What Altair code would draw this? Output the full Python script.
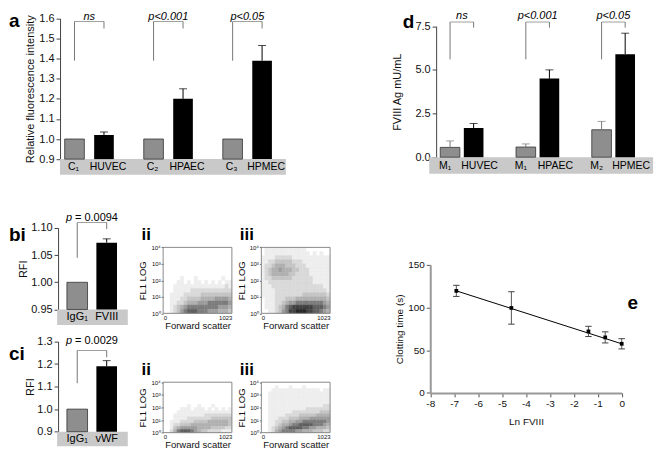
import altair as alt
import pandas as pd

FONT = "Liberation Sans"

# ---------------- data ----------------
# panel a
a_groups = ["HUVEC", "HPAEC", "HPMEC"]
a_ctrl_labels = ["C₁", "C₂", "C₃"]
a_cell_labels = ["HUVEC", "HPAEC", "HPMEC"]
a_ctrl_values = [1.00, 1.00, 1.00]
a_ctrl_errors = [0.0, 0.0, 0.0]
a_cell_values = [1.02, 1.20, 1.39]
a_cell_errors = [0.015, 0.05, 0.075]
a_pvalues = ["ns", "p<0.001", "p<0.05"]
a_ticks = [0.9, 1.0, 1.1, 1.2, 1.3, 1.4, 1.5, 1.6]
a_bracket = [1.39, 1.585, 1.55]

# panel d
d_groups = ["HUVEC", "HPAEC", "HPMEC"]
d_ctrl_labels = ["M₁", "M₁", "M₂"]
d_cell_labels = ["HUVEC", "HPAEC", "HPMEC"]
d_ctrl_values = [0.56, 0.58, 1.57]
d_ctrl_errors = [0.37, 0.18, 0.48]
d_cell_values = [1.67, 4.50, 5.90]
d_cell_errors = [0.26, 0.50, 1.20]
d_pvalues = ["ns", "p<0.001", "p<0.05"]
d_ticks = [0.0, 2.5, 5.0, 7.5]
d_bracket = [5.6, 7.74, 7.42]

# panel bi
bi_labels = ["IgG₁", "FVIII"]
bi_values = [1.00, 1.073]
bi_errors = [0.0, 0.007]
bi_p = "= 0.0094"
bi_ticks = [0.95, 1.00, 1.05, 1.10]
bi_bracket = [1.045, 1.11, 1.098]

# panel ci
ci_labels = ["IgG₁", "vWF"]
ci_values = [1.00, 1.19]
ci_errors = [0.0, 0.025]
ci_p = "= 0.0029"
ci_ticks = [0.9, 1.0, 1.1, 1.2, 1.3]
ci_bracket = [1.115, 1.26, 1.23]

# flow cytometry dot density (estimated darkness 0-9),
# rows top -> bottom in quarter decades, 20 columns across forward scatter
bi_ii_density = [
    "00000000000000000000",
    "00000000000000000000",
    "00000000000000000000",
    "00000000000000000000",
    "00000000000000000000",
    "00000000000000000000",
    "00000000000000000000",
    "00000100010000000100",
    "00001101011010101011",
    "00011111111111111121",
    "00011111222222222222",
    "00111122222333333333",
    "00111223333444455554",
    "00112234445556666665",
    "00123456666666665554",
    "00123567776665554443",
]
bi_iii_density = [
    "01111111111110000000",
    "01111111111111010100",
    "11112222211111111111",
    "11223333322211111111",
    "12234443332221111111",
    "12344544433222111111",
    "12344444332222111111",
    "12233333322222211111",
    "11222222222222211111",
    "11122222222222222211",
    "11112222222222222221",
    "11112222222233333332",
    "01112223334444444443",
    "01112234556666666654",
    "01112346788888877765",
    "00112356889998877654",
]
ci_ii_density = [
    "00000000000000000000",
    "00000000000000000000",
    "00000000000000000000",
    "00000000000000000000",
    "00000000000000000000",
    "00000000000000000000",
    "00000000000000000000",
    "00000001001000100000",
    "00000111011101010101",
    "00001111111111111111",
    "00011111111122222222",
    "00011112222222333333",
    "00111222233334444443",
    "00122333444444444443",
    "00134555554444333322",
    "00246777654332222111",
]
ci_iii_density = [
    "00000000000000000000",
    "00001000100010000000",
    "00011111111111111011",
    "00111111111111111111",
    "00111111111111111111",
    "00111111111111111111",
    "00111111111111111111",
    "00111111111111111122",
    "00111111111112222222",
    "00111111122222222333",
    "00111112222333334444",
    "00111222333444555555",
    "00112233445566666665",
    "00112344566777766654",
    "00123456777766554443",
    "00124566665544433322",
]
flow_yticks = [1, 10, 100, 1000, 10000]
flow_xticks = [0, 1023]

# panel e
e_ln_fviii = [-6.91, -4.61, -1.39, -0.69, 0.0]
e_clot = [119.5, 99.5, 72.0, 65.0, 57.5]
e_err = [6.5, 19.0, 6.0, 6.5, 6.0]
e_fit_x = [-6.91, 0.0]
e_fit_y = [119.5, 57.5]
e_xticks = [-8, -7, -6, -5, -4, -3, -2, -1, 0]
e_yticks = [0, 50, 100, 150]

# ---------------- layout helpers ----------------
SX, SY = 0.985, 0.973


def P(x):
    return round(SX * (x - 2), 2)


def Q(y):
    return round(SY * (y - 4), 2)


W = 648
H = 436


def letter(txt, x, y, size=19):
    return alt.Chart(pd.DataFrame({"t": [txt]})).mark_text(
        font=FONT, fontSize=size, fontWeight="bold", align="left",
        baseline="alphabetic", color="#000"
    ).encode(text="t:N", x=alt.value(P(x)), y=alt.value(Q(y)))


def bar_panel(groups, ctrl_lab, cell_lab, ctrl_val, ctrl_err, cell_val, cell_err,
              ptexts, ticks, fmt, ytitle, bracket, g, psplit=False):
    rows = []
    for i, grp in enumerate(groups):
        rows.append({"grp": grp, "kind": "ctrl", "lab": ctrl_lab[i],
                     "val": ctrl_val[i], "err": ctrl_err[i]})
        rows.append({"grp": grp, "kind": "cell", "lab": cell_lab[i],
                     "val": cell_val[i], "err": cell_err[i]})
    df = pd.DataFrame(rows)
    df["top"] = df["val"] + df["err"]
    lo, top, right = bracket
    br = pd.DataFrame({
        "grp": [gr for gr in groups for _ in (0, 1)],
        "kind": ["ctrl", "cell"] * len(groups),
        "b0": [lo, right] * len(groups),
        "b1": [top, top] * len(groups),
    })
    pt = pd.DataFrame({"grp": groups, "pt": ptexts})

    X = alt.X("grp:N", scale=alt.Scale(domain=groups,
                                       range=[P(g["xr"][0]), P(g["xr"][1])],
                                       paddingInner=g["pi"], paddingOuter=g["po"]),
              axis=None)
    XO = alt.XOffset("kind:N", scale=alt.Scale(domain=["ctrl", "cell"],
                                               paddingInner=g["pi2"],
                                               paddingOuter=g["po2"]))
    ys = alt.Scale(domain=g["ydom"], range=[Q(g["yr"][0]), Q(g["yr"][1])],
                   nice=False, zero=False)
    yaxis = alt.Axis(orient="left", offset=-P(g["ax"]), values=ticks, format=fmt,
                     title=ytitle, titlePadding=g["tpad"], labelFontSize=11,
                     titleFontSize=11, tickSize=4, labelPadding=2,
                     domainColor="#444", tickColor="#444", grid=False,
                     labelOverlap=False)

    def Y(field):
        return alt.Y(field, scale=ys, axis=yaxis)

    ecol = alt.Color("kind:N", scale=alt.Scale(domain=["ctrl", "cell"],
                                               range=["#777777", "#000000"]),
                     legend=None)
    bx0, bx1, by0, by1 = g["band"]
    band = alt.Chart(pd.DataFrame({"k": [0]})).mark_rect(color="#c9c9c9").encode(
        x=alt.value(P(bx0)), x2=alt.value(P(bx1)),
        y=alt.value(Q(by0)), y2=alt.value(Q(by1)))
    bars_c = alt.Chart(df).transform_filter("datum.kind == 'ctrl'").mark_bar(
        color="#8e8e8e", stroke="#333", strokeWidth=0.8
    ).encode(X, XO, y=Y("val:Q"), y2=alt.datum(g["ydom"][0]))
    bars_k = alt.Chart(df).transform_filter("datum.kind == 'cell'").mark_bar(
        color="#000000"
    ).encode(X, XO, y=Y("val:Q"), y2=alt.datum(g["ydom"][0]))
    errs = alt.Chart(df).transform_filter("datum.err > 0")
    err_rule = errs.mark_rule(strokeWidth=1).encode(
        X, XO, y=Y("val:Q"), y2="top:Q", color=ecol)
    err_cap = errs.mark_tick(thickness=1, size=8).encode(
        X, XO, y=Y("top:Q"), color=ecol)
    legs = alt.Chart(br).mark_rule(color="#777", strokeWidth=1).encode(
        X, XO, y=Y("b0:Q"), y2="b1:Q")
    hbar = alt.Chart(br).transform_filter("datum.kind == 'ctrl'").mark_tick(
        color="#777", thickness=1, size=round(SX * g["bw"], 2)
    ).encode(X, y=Y("b1:Q"))
    ldx_c, ldx_k = g["ldx"]
    labs_c = alt.Chart(df).transform_filter("datum.kind == 'ctrl'").mark_text(
        font=FONT, fontSize=g["lfs"], color="#000", dx=ldx_c
    ).encode(X, XO, y=alt.value(Q(g["ly"])), text="lab:N")
    labs_k = alt.Chart(df).transform_filter("datum.kind == 'cell'").mark_text(
        font=FONT, fontSize=g["lfs"], color="#000", dx=ldx_k
    ).encode(X, XO, y=alt.value(Q(g["ly"])), text="lab:N")
    layers = [band, bars_c, bars_k, err_rule, err_cap, legs, hbar, labs_c, labs_k]
    if psplit:
        layers.append(alt.Chart(pt.assign(pp="p")).mark_text(
            font=FONT, fontSize=11, fontStyle="italic", align="left", dx=-26, color="#000"
        ).encode(X, y=alt.value(Q(g["py"])), text="pp:N"))
        layers.append(alt.Chart(pt).mark_text(
            font=FONT, fontSize=11, align="left", dx=-17, color="#000"
        ).encode(X, y=alt.value(Q(g["py"])), text="pt:N"))
    else:
        layers.append(alt.Chart(pt).mark_text(
            font=FONT, fontSize=11, fontStyle="italic", color="#000"
        ).encode(X, y=alt.value(Q(g["py"])), text="pt:N"))
    return alt.layer(*layers)


def flow_panel(density, xr, yr):
    nrow = len(density)
    ncol = max(len(s) for s in density)
    recs = []
    for i, s in enumerate(density):
        r = nrow - 1 - i
        for c, ch in enumerate(s):
            lv = int(ch)
            if lv > 0:
                recs.append({"fx0": c * 1023 / ncol, "fx1": (c + 1) * 1023 / ncol,
                             "fy0": 10 ** (r * 4 / nrow), "fy1": 10 ** ((r + 1) * 4 / nrow),
                             "lv": lv})
    df = pd.DataFrame(recs)
    xs = alt.Scale(domain=[0, 1023], range=[P(xr[0]), P(xr[1])], nice=False, zero=False)
    ys = alt.Scale(type="log", domain=[1, 10000], range=[Q(yr[0]), Q(yr[1])], nice=False)
    xaxis = alt.Axis(orient="bottom", offset=Q(yr[0]) - H, values=flow_xticks,
                     format="d", labelFlush=True, labelFontSize=6, ticks=False,
                     domain=False, labelPadding=1, title="Forward scatter",
                     titleFontSize=9.5, titlePadding=0, grid=False)
    yaxis = alt.Axis(orient="left", offset=-P(xr[0]), values=flow_yticks,
                     labelExpr="datum.value < 5 ? '10⁰' : datum.value < 50 ? '10¹' : "
                               "datum.value < 500 ? '10²' : datum.value < 5000 ? '10³' : '10⁴'",
                     labelFontSize=6, tickSize=2, domain=False, labelPadding=1,
                     title="FL1 LOG", titleFontSize=9.5, titlePadding=3, grid=False,
                     tickColor="#666", labelOverlap=False)
    shade = alt.Scale(domain=[0, 1, 5, 9],
                      range=["#ffffff", "#eeeeee", "#9c9c9c", "#262626"])
    cells = alt.Chart(df).mark_rect(strokeWidth=0.4).encode(
        x=alt.X("fx0:Q", scale=xs, axis=xaxis), x2="fx1:Q",
        y=alt.Y("fy0:Q", scale=ys, axis=yaxis), y2="fy1:Q",
        fill=alt.Fill("lv:Q", scale=shade, legend=None),
        stroke=alt.Stroke("lv:Q", scale=shade, legend=None))
    frame = alt.Chart(pd.DataFrame({"k": [0]})).mark_rect(
        filled=False, color="#8a8a8a", strokeWidth=1
    ).encode(x=alt.XDatum(0, scale=xs, axis=xaxis), x2=alt.datum(1023),
             y=alt.YDatum(1, scale=ys, axis=yaxis), y2=alt.datum(10000))
    return alt.layer(cells, frame)


# ---------------- panels ----------------
panel_a = bar_panel(
    a_groups, a_ctrl_labels, a_cell_labels, a_ctrl_values, a_ctrl_errors,
    a_cell_values, a_cell_errors, a_pvalues, a_ticks, ".1f",
    "Relative fluorescence intensity", a_bracket,
    dict(xr=(44.5, 286), pi=0.3043, po=0.152, pi2=0.3333, po2=0.1,
         ydom=[0.9, 1.6], yr=(156, 11), ax=55, tpad=3,
         band=(55, 285, 156, 172), ly=164, py=9, bw=30, ldx=(-1, 4), lfs=10.5))

panel_d = bar_panel(
    d_groups, d_ctrl_labels, d_cell_labels, d_ctrl_values, d_ctrl_errors,
    d_cell_values, d_cell_errors, d_pvalues, d_ticks, ".1f",
    "FVIII Ag mU/mL", d_bracket,
    dict(xr=(425.6, 657.1), pi=0.4036, po=0.2018, pi2=0.1667, po2=0.0417,
         ydom=[0.0, 7.5], yr=(154, 19), ax=438, tpad=12,
         band=(431, 659, 154, 171), ly=163, py=8, bw=24, ldx=(-5, 6), lfs=10.5))

panel_bi = bar_panel(
    ["g"], [bi_labels[0]], [bi_labels[1]], [bi_values[0]], [bi_errors[0]],
    [bi_values[1]], [bi_errors[1]], [bi_p], bi_ticks, ".2f", "RFI", bi_bracket,
    dict(xr=(53.5, 121.5), pi=0.0, po=0.0, pi2=0.3, po2=0.283,
         ydom=[0.95, 1.10], yr=(311, 227), ax=53, tpad=2,
         band=(52, 124, 311, 327), ly=319, py=217, bw=30, ldx=(0, 0), lfs=11),
    psplit=True)

panel_ci = bar_panel(
    ["g"], [ci_labels[0]], [ci_labels[1]], [ci_values[0]], [ci_errors[0]],
    [ci_values[1]], [ci_errors[1]], [ci_p], ci_ticks, ".1f", "RFI", ci_bracket,
    dict(xr=(53.5, 121.5), pi=0.0, po=0.0, pi2=0.3, po2=0.283,
         ydom=[0.9, 1.3], yr=(437, 344), ax=53, tpad=1,
         band=(52, 124, 437, 452), ly=445, py=344, bw=30, ldx=(0, 0), lfs=11),
    psplit=True)

flow_bi_ii = flow_panel(bi_ii_density, (160, 230), (315, 247))
flow_bi_iii = flow_panel(bi_iii_density, (260, 330), (315, 247))
flow_ci_ii = flow_panel(ci_ii_density, (160, 230), (438, 386))
flow_ci_iii = flow_panel(ci_iii_density, (260, 330), (438, 386))

# panel e
e_df = pd.DataFrame({"lnf": e_ln_fviii, "ct": e_clot, "er": e_err})
e_df["lo"] = e_df["ct"] - e_df["er"]
e_df["hi"] = e_df["ct"] + e_df["er"]
fit_df = pd.DataFrame({"fx": e_fit_x, "fy": e_fit_y})
e_xs = alt.Scale(domain=[-8, 0], range=[P(432), P(627)], nice=False, zero=False)
e_ys = alt.Scale(domain=[0, 150], range=[Q(397), Q(265)], nice=False, zero=False)
e_xaxis = alt.Axis(orient="bottom", offset=Q(397) - H, values=e_xticks,
                   labelExpr="'' + datum.value", labelFlush=False, labelFontSize=10,
                   domainColor="#999", domainWidth=2, tickColor="#555", tickSize=4,
                   title="Ln FVIII", titleFontSize=10, titlePadding=8, grid=False)
e_yaxis = alt.Axis(orient="left", offset=-P(432), values=e_yticks, labelFontSize=10,
                   domainColor="#999", domainWidth=2, tickColor="#555", tickSize=4,
                   title="Clotting time (s)", titleFontSize=10, titlePadding=3,
                   grid=False)


def EX(field):
    return alt.X(field, scale=e_xs, axis=e_xaxis)


def EY(field):
    return alt.Y(field, scale=e_ys, axis=e_yaxis)


e_line = alt.Chart(fit_df).mark_line(color="#000", strokeWidth=1).encode(
    x=EX("fx:Q"), y=EY("fy:Q"))
e_rule = alt.Chart(e_df).mark_rule(color="#555", strokeWidth=1).encode(
    x=EX("lnf:Q"), y=EY("lo:Q"), y2="hi:Q")
e_caps = alt.Chart(e_df).transform_fold(["lo", "hi"], as_=["side", "v"]).mark_point(
    shape="M-1,0L1,0", size=42, filled=False, color="#444", strokeWidth=1, opacity=1
).encode(x=EX("lnf:Q"), y=EY("v:Q"))
e_pts = alt.Chart(e_df).mark_square(size=14, color="#000", opacity=1).encode(
    x=EX("lnf:Q"), y=EY("ct:Q"))
panel_e = alt.layer(e_line, e_rule, e_caps, e_pts)

letters = alt.layer(
    letter("a", 3, 20),
    letter("d", 404, 21),
    letter("bi", 3, 240),
    letter("ci", 3, 363),
    letter("ii", 138, 239, 17),
    letter("iii", 238, 239, 17),
    letter("ii", 138, 379, 17),
    letter("iii", 238, 379, 17),
    letter("e", 633, 311),
)

chart = alt.layer(
    panel_a, panel_d, panel_bi, panel_ci,
    flow_bi_ii, flow_bi_iii, flow_ci_ii, flow_ci_iii,
    panel_e, letters,
).resolve_scale(
    x="independent", y="independent", xOffset="independent",
    color="independent", fill="independent", stroke="independent",
).properties(
    width=W, height=H, padding=0
).configure_view(
    stroke=None
).configure_axis(
    labelFont=FONT, titleFont=FONT, titleFontWeight="normal",
    labelColor="#111", titleColor="#111", grid=False
).configure_text(font=FONT)

chart.save("out.html", embed_options={"renderer": "svg", "actions": False})
